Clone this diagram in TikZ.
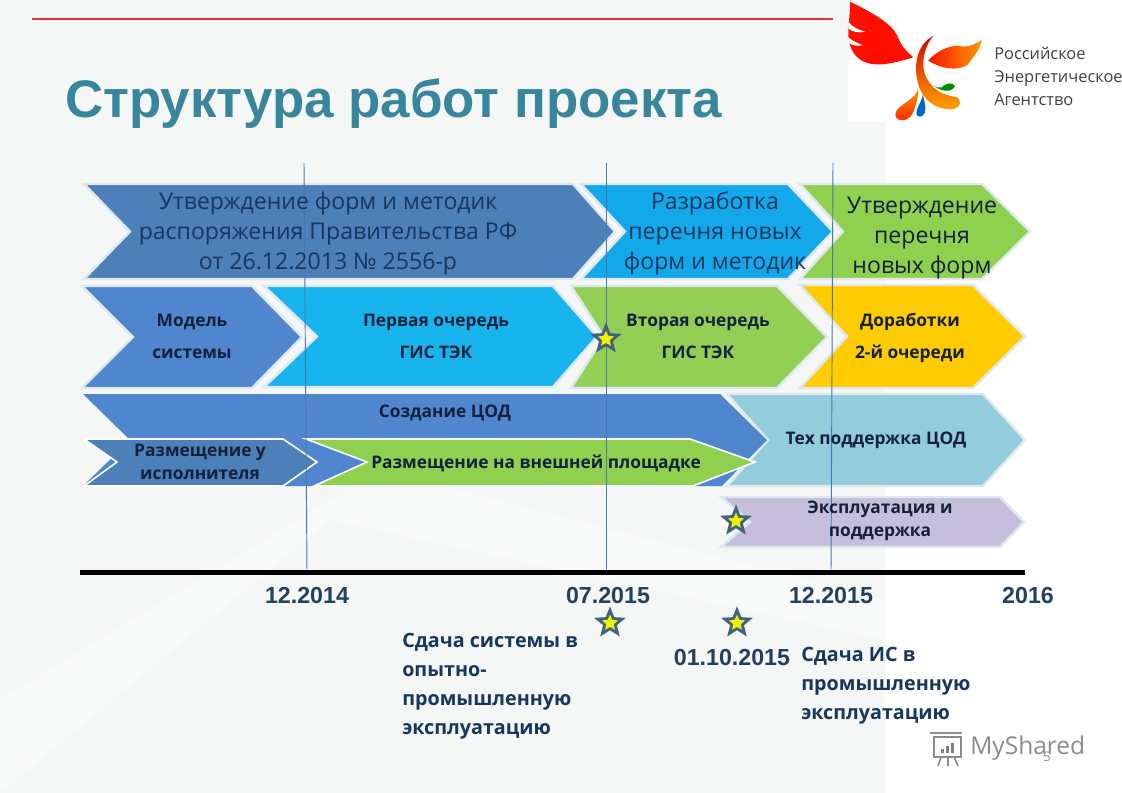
\documentclass[tikz,border=0pt]{standalone}
\usepackage{fontspec}
\setmainfont{Open Sans}
\newfontfamily\arialf{Liberation Sans}
\usetikzlibrary{shapes.geometric,calc}
\definecolor{navy}{HTML}{17375E}
\definecolor{inkd}{HTML}{14213D}
\definecolor{titlec}{HTML}{37869B}
\definecolor{rulec}{HTML}{E8302F}
\definecolor{cA}{HTML}{4D7FB9}
\definecolor{cB}{HTML}{12A8EA}
\definecolor{cC}{HTML}{8FD04E}
\definecolor{cD}{HTML}{4F86CE}
\definecolor{cE}{HTML}{17B4EE}
\definecolor{cF}{HTML}{93CF55}
\definecolor{cG}{HTML}{FFCC00}
\definecolor{cI}{HTML}{93CCDC}
\definecolor{cL}{HTML}{C6BFDB}
\definecolor{halo}{HTML}{DDE8EF}
\definecolor{datec}{HTML}{24405F}
\definecolor{vline}{HTML}{4A78AE}
\definecolor{bgc}{HTML}{F5F6F6}
\definecolor{starc}{HTML}{41637F}
\newcommand{\fsz}[2]{\fontsize{#1}{#2}\selectfont}
% chevron: colour, x left, x notch, x shoulder, x tip, y top, y bottom
\newcommand{\chev}[7]{\path[chevbox,fill=#1] (#2,#6) -- (#4,#6) -- (#5,{(#6+#7)/2}) -- (#4,#7) -- (#2,#7) -- (#3,{(#6+#7)/2}) -- cycle;}
\tikzset{
  chevbox/.style={draw=halo,line width=1.8pt,line join=miter},
  head/.style={font=\fsz{17.3}{22.2},text=navy,align=center,inner sep=0pt},
  boldlab/.style={font=\bfseries\fsz{13}{24},text=inkd,align=center,inner sep=0pt},
  boldtight/.style={font=\bfseries\fsz{13}{17},text=inkd,align=center,inner sep=0pt},
  datelab/.style={font=\arialf\bfseries\fsz{17.4}{20},text=datec,inner sep=0pt},
  notelab/.style={font=\bfseries\fsz{14.8}{21.8},text=navy,align=left,inner sep=0pt},
  logolab/.style={font=\fsz{12.3}{17.3},text=black!75,align=left,inner sep=0pt},
  starout/.style={star,star points=5,star point ratio=2.3,minimum size=25pt,inner sep=0pt,fill=starc,draw=none},
  starin/.style={star,star points=5,star point ratio=2.1,minimum size=12.5pt,inner sep=0pt,fill=yellow!95!green,draw=none},
  timeline/.style={vline,line width=0.7pt},
}
\begin{document}
\begin{tikzpicture}[x=0.75pt,y=-0.75pt]
\useasboundingbox (0,0) rectangle (1122,793);
\fill[white] (0,0) rectangle (1122,793);
% pale background
\fill[bgc] (0,0) rectangle (885,793);
\fill[white,opacity=.35] (0,793) -- (330,520) -- (885,640) -- (885,600) -- (380,470) -- (0,700) -- cycle;
\fill[white] (848,0) rectangle (1122,122);
% top rule
\coordinate (ruleL) at (32,19); \coordinate (ruleR) at (833,19);
\draw[draw=rulec,line width=0.9pt] (ruleL) -- (ruleR);
% title
\node[anchor=west,inner sep=0pt,text=titlec,font=\arialf\bfseries\fsz{39.6}{44}] (title) at (65,103.5) {Структура работ проекта};
% logo
\begin{scope}[shift={(830,0)},x=0.25pt,y=-0.25pt]
  \fill[red!88!orange] (60,5) .. controls (120,35) and (190,70) .. (205,115) .. controls (215,140) and (235,160) .. (250,172)
     .. controls (190,190) and (120,210) .. (80,170) .. controls (65,155) and (55,130) .. (55,100) .. controls (55,80) and (60,40) .. (60,5) -- cycle;
  \fill[white] (55,65) .. controls (70,85) and (90,90) .. (105,95) .. controls (85,100) and (65,95) .. (55,85) -- cycle;
  \fill[white] (55,112) .. controls (70,125) and (85,130) .. (98,136) .. controls (80,140) and (65,135) .. (56,128) -- cycle;
  \shade[left color=red!85!orange,right color=orange!80!yellow] (295,182) .. controls (320,150) and (370,130) .. (400,140) .. controls (420,140) and (440,130) .. (455,120)
     .. controls (450,150) and (430,170) .. (412,195) .. controls (380,215) and (330,205) .. (295,182) -- cycle;
  \shade[top color=red!85!black,bottom color=orange!70!yellow] (310,108) .. controls (265,130) and (250,190) .. (262,240) .. controls (270,290) and (310,330) .. (365,328)
     .. controls (395,325) and (398,295) .. (375,290) .. controls (325,285) and (285,250) .. (280,200) .. controls (278,165) and (290,130) .. (310,108) -- cycle;
  \shade[top color=orange!80!yellow,bottom color=red!75!orange] (265,262) .. controls (262,300) and (195,315) .. (196,345) .. controls (200,370) and (240,365) .. (250,335) .. controls (258,315) and (265,290) .. (265,262) -- cycle;
  \fill[blue!45!cyan!75!black] (278,285) .. controls (275,310) and (255,325) .. (260,345) .. controls (270,358) and (288,345) .. (286,325) .. controls (285,310) and (282,295) .. (278,285) -- cycle;
  \fill[green!55!black] (310,255) .. controls (330,275) and (365,280) .. (375,258) .. controls (368,245) and (345,250) .. (335,262) .. controls (328,265) and (318,262) .. (310,255) -- cycle;
\end{scope}
\node[logolab,anchor=north west] (logotext) at (994,47) {Российское\\Энергетическое\\Агентство};
% chevrons, back to front
\chev{cC}{800}{843}{982}{1030}{184}{279}
\chev{cB}{581}{625}{788}{833}{184}{279}
\chev{cA}{84}{130}{573}{615}{184}{279}
\chev{cG}{800}{847}{973}{1025}{285}{388}
\chev{cF}{571}{604}{777}{827}{286}{388}
\chev{cE}{264}{317}{553}{597}{286}{387}
\chev{cD}{82}{133}{252}{302}{286}{388}
\chev{cI}{727}{768}{983}{1025}{394}{486}
\path[fill=cD] (83,394) -- (720,394) -- (767,440) -- (722,486) -- (83,486) -- (130,440) -- cycle;
\path[draw=white,line width=1.2pt,fill=cA] (84,439) -- (283,439) -- (317,462) -- (283,486) -- (84,486) -- (117,462) -- cycle;
\path[draw=white,line width=1.2pt,fill=cC] (306,439) -- (690,439) -- (755,462) -- (693,486) -- (314,486) -- (367,462) -- cycle;
\chev{cL}{721}{750}{1000}{1024}{497}{547}
% timeline
\coordinate (v1t) at (304,163); \coordinate (v1b) at (307,572);
\coordinate (v2t) at (606,163); \coordinate (v2b) at (606,572);
\coordinate (v3t) at (833,163); \coordinate (v3b) at (831,572);
\draw[timeline] (v1t) -- (v1b);
\draw[timeline] (v2t) -- (v2b);
\draw[timeline] (v3t) -- (v3b);
\coordinate (axL) at (80,572.5); \coordinate (axR) at (1025,572.5);
\draw[black,line width=3.6pt] (axL) -- (axR);
% stars
\node[starout] (s1) at (606,339) {}; \node[starin] (s1i) at (606,339) {};
\node[starout] (s2) at (736,521) {}; \node[starin] (s2i) at (736,521) {};
\node[starout] (s3) at (610,623) {}; \node[starin] (s3i) at (610,623) {};
\node[starout] (s4) at (737,623) {}; \node[starin] (s4i) at (737,623) {};
% chevron text
\node[head] (ta) at (328,233.5) {Утверждение форм и методик\\распоряжения Правительства РФ\\от 26.12.2013 № 2556-р};
\node[head] (tb) at (715,233.5) {Разработка\\перечня новых\\форм и методик};
\node[head,text=inkd] (tc) at (922,238) {Утверждение\\перечня\\новых форм};
\node[boldlab] (td) at (192,336) {Модель\\системы};
\node[boldlab] (te) at (436,336) {Первая очередь\\ГИС ТЭК};
\node[boldlab] (tf) at (698,336) {Вторая очередь\\ГИС ТЭК};
\node[boldlab] (tg) at (910,338) {Доработки\\2-й очереди};
\node[boldlab] (th) at (445,413) {Создание ЦОД};
\node[boldtight] (tj) at (200,462) {Размещение у\\исполнителя};
\node[boldlab] (tk) at (536,463) {Размещение на внешней площадке};
\node[boldlab] (ti) at (876,440) {Тех поддержка ЦОД};
\node[boldtight] (tl) at (880,521) {Эксплуатация и\\поддержка};
% dates
\node[datelab] (d1) at (307,596) {12.2014};
\node[datelab] (d2) at (608,596) {07.2015};
\node[datelab] (d3) at (831,596) {12.2015};
\node[datelab] (d4) at (1028,596) {2016};
\node[datelab] (d5) at (732,658) {01.10.2015};
% notes
\node[notelab,anchor=north west] (n1) at (402,632.5) {Сдача системы в\\опытно-\\промышленную\\эксплуатацию};
\node[notelab,anchor=north west] (n2) at (801,646.5) {Сдача ИС в\\промышленную\\эксплуатацию};
% watermark
\begin{scope}[draw=black!45,line width=1.2pt]
  \draw (934,737) rectangle (961,757);
  \draw (930,733) -- (962,733);
  \draw (941,757) -- (938,766);
  \draw (948,757) -- (948,766);
  \draw (954,757) -- (958,766);
  \fill[black!50] (941,749) rectangle +(3,4);
  \fill[black!50] (946,746) rectangle +(3,7);
  \fill[black!50] (951,743) rectangle +(3,10);
\end{scope}
\node[anchor=west,inner sep=0pt,text=black!45,font=\fsz{18.4}{24}] (wm) at (970,748) {MyShared};
\node[inner sep=0pt,text=black!45,font=\fsz{10}{12}] (pg) at (1047,757) {5};
\end{tikzpicture}
\end{document}
